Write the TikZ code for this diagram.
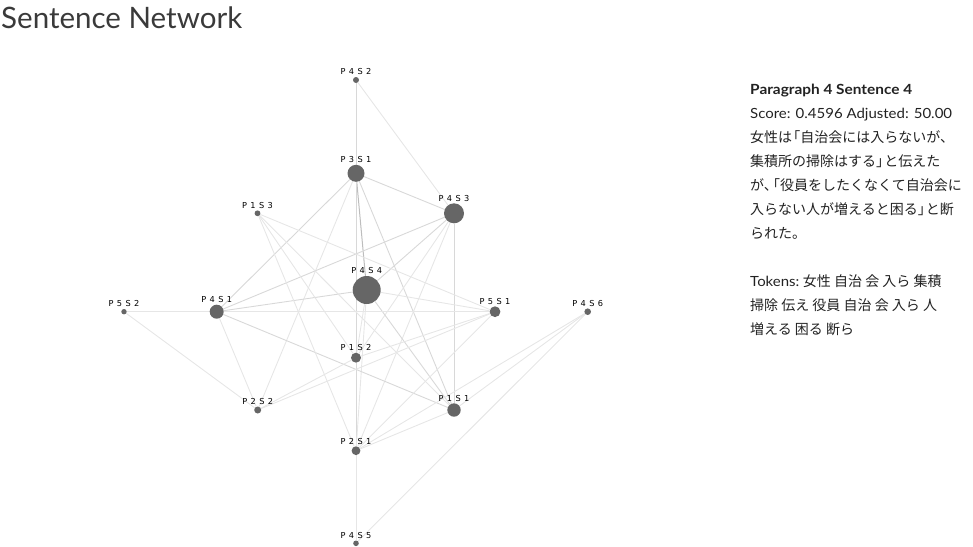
\documentclass[tikz,border=0pt]{standalone}
\usepackage{fontspec}
\setmainfont{Lato}
\newfontfamily\jp{Noto Sans CJK JP}
\newfontfamily\lblfont{DejaVu Sans}
\usetikzlibrary{calc}
\pgfdeclarelayer{bg}
\pgfsetlayers{bg,main}
\definecolor{dotc}{HTML}{666666}
\definecolor{elight}{HTML}{E6E6E6}
\definecolor{emid}{HTML}{D8D8D8}
\definecolor{edark}{HTML}{BDBDBD}
\definecolor{txt}{HTML}{222222}
\definecolor{ttl}{HTML}{3A3A3A}
\tikzset{
  dot/.style={circle,fill=dotc,draw=none,inner sep=0pt},
  lbl/.style={anchor=base,inner sep=0pt,font=\lblfont\fontsize{8.2}{9}\selectfont,text=black},
  el/.style={draw=elight,line width=0.9pt},
  em/.style={draw=emid,line width=0.9pt},
  ed/.style={draw=edark,line width=1pt},
  ptxt/.style={anchor=base west,inner sep=0pt,text=txt,font=\fontsize{14}{16}\selectfont},
  jtxt/.style={anchor=base west,inner sep=0pt,text=txt,font=\jp\fontsize{14}{16}\selectfont},
}
\newcommand\gnode[5]{%
  \node[dot,minimum size={2*#4pt}] (#1) at (#2,#3) {};
  \node[lbl] (#1l) at (#2,#3-#4-2.2) {#5};
}
\newcommand\lsp{\hspace{3.4pt}}
\newcommand\ob{\hspace{-0.42em}「}
\newcommand\cb{」\hspace{-0.42em}}
\newcommand\cm{、\hspace{-0.42em}}
\begin{document}
\begin{tikzpicture}[x=1pt,y=-1pt]
\useasboundingbox (0,0) rectangle (973,546);
% title
\node[anchor=base west,inner sep=0pt,text=ttl] (title) at (1,28)
  {\resizebox{241pt}{!}{\fontsize{30}{36}\selectfont Sentence Network}};
% nodes
\gnode{p4s2}{356}{80}{3}{P\lsp4\lsp S\lsp2}
\gnode{p3s1}{356}{173.3}{8.5}{P\lsp3\lsp S\lsp1}
\gnode{p1s3}{257.5}{213.3}{2.9}{P\lsp1\lsp S\lsp3}
\gnode{p4s3}{454}{213.3}{10}{P\lsp4\lsp S\lsp3}
\gnode{p4s4}{366.7}{290}{14}{P\lsp4\lsp S\lsp4}
\gnode{p5s2}{124}{311.7}{2.7}{P\lsp5\lsp S\lsp2}
\gnode{p4s1}{216.7}{311.7}{7}{P\lsp4\lsp S\lsp1}
\gnode{p5s1}{495}{311.7}{5.4}{P\lsp5\lsp S\lsp1}
\gnode{p4s6}{587.7}{311.7}{3.3}{P\lsp4\lsp S\lsp6}
\gnode{p1s2}{356}{357.7}{5}{P\lsp1\lsp S\lsp2}
\gnode{p2s2}{257.7}{410}{3.5}{P\lsp2\lsp S\lsp2}
\gnode{p1s1}{454}{410}{6.7}{P\lsp1\lsp S\lsp1}
\gnode{p2s1}{356}{450.7}{4.4}{P\lsp2\lsp S\lsp1}
\gnode{p4s5}{356}{543.3}{2.8}{P\lsp4\lsp S\lsp5}
% edges
\begin{pgfonlayer}{bg}
\draw[em] (p4s2) -- (p3s1);
\draw[el] (p4s2) -- (p4s3);
\draw[em] (p3s1) -- (p4s3);
\draw[ed] (p3s1) -- (p4s4);
\draw[em] (p3s1) -- (p4s1);
\draw[em] (p3s1) -- (p1s1);
\draw[el] (p3s1) -- (p2s2);
\draw[em] (p3s1) -- (p1s2);
\draw[em] (p1s2) -- (p2s1);
\draw[el] (p2s1) -- (p4s5);
\draw[em] (p4s3) -- (p4s4);
\draw[em] (p4s3) -- (p4s1);
\draw[em] (p4s3) -- (p1s1);
\draw[el] (p4s3) -- (p1s2);
\draw[el] (p4s3) -- (p2s1);
\draw[em] (p4s4) -- (p4s1);
\draw[el] (p4s4) -- (p5s1);
\draw[em] (p4s4) -- (p1s1);
\draw[el] (p4s4) -- (p1s2);
\draw[el] (p4s4) -- (p2s1);
\draw[el] (p5s2) -- (p4s1);
\draw[el] (p4s1) -- (p5s1);
\draw[em] (p4s1) -- (p1s1);
\draw[el] (p4s1) -- (p2s2);
\draw[el] (p5s2) -- (p2s2);
\draw[el] (p1s3) -- (p5s1);
\draw[el] (p1s3) -- (p1s1);
\draw[el] (p1s3) -- (p2s1);
\draw[el] (p1s3) -- (p1s2);
\draw[el] (p1s2) -- (p5s1);
\draw[el] (p2s2) -- (p1s2);
\draw[el] (p2s2) -- (p5s1);
\draw[el] (p2s1) -- (p5s1);
\draw[el] (p2s1) -- (p1s1);
\draw[el] (p2s1) -- (p4s6);
\draw[el] (p1s1) -- (p4s6);
\draw[el] (p4s5) -- (p4s6);
\end{pgfonlayer}
% side panel
\node[ptxt,font=\bfseries\fontsize{14}{16}\selectfont] (h) at (750,94) {\scalebox{1.1}[1]{Paragraph 4 Sentence 4}};
\node[ptxt] (s) at (750,118) {\scalebox{1.07}[1]{Score: 0.4596 Adjusted: 50.00}};
\node[jtxt] (j1) at (750,142) {女性は\ob 自治会には入らないが、};
\node[jtxt] (j2) at (750,166) {集積所の掃除はする\cb と伝えた};
\node[jtxt] (j3) at (750,190) {が\cm\ob 役員をしたくなくて自治会に};
\node[jtxt] (j4) at (750,214) {入らない人が増えると困る\cb と断};
\node[jtxt] (j5) at (750,238) {られた。};
\node[ptxt] (t1) at (750,286) {\scalebox{1.07}[1]{Tokens:} {\jp 女性 自治 会 入ら 集積}};
\node[jtxt] (t2) at (750,310) {掃除 伝え 役員 自治 会 入ら 人};
\node[jtxt] (t3) at (750,334) {増える 困る 断ら};
\end{tikzpicture}
\end{document}
